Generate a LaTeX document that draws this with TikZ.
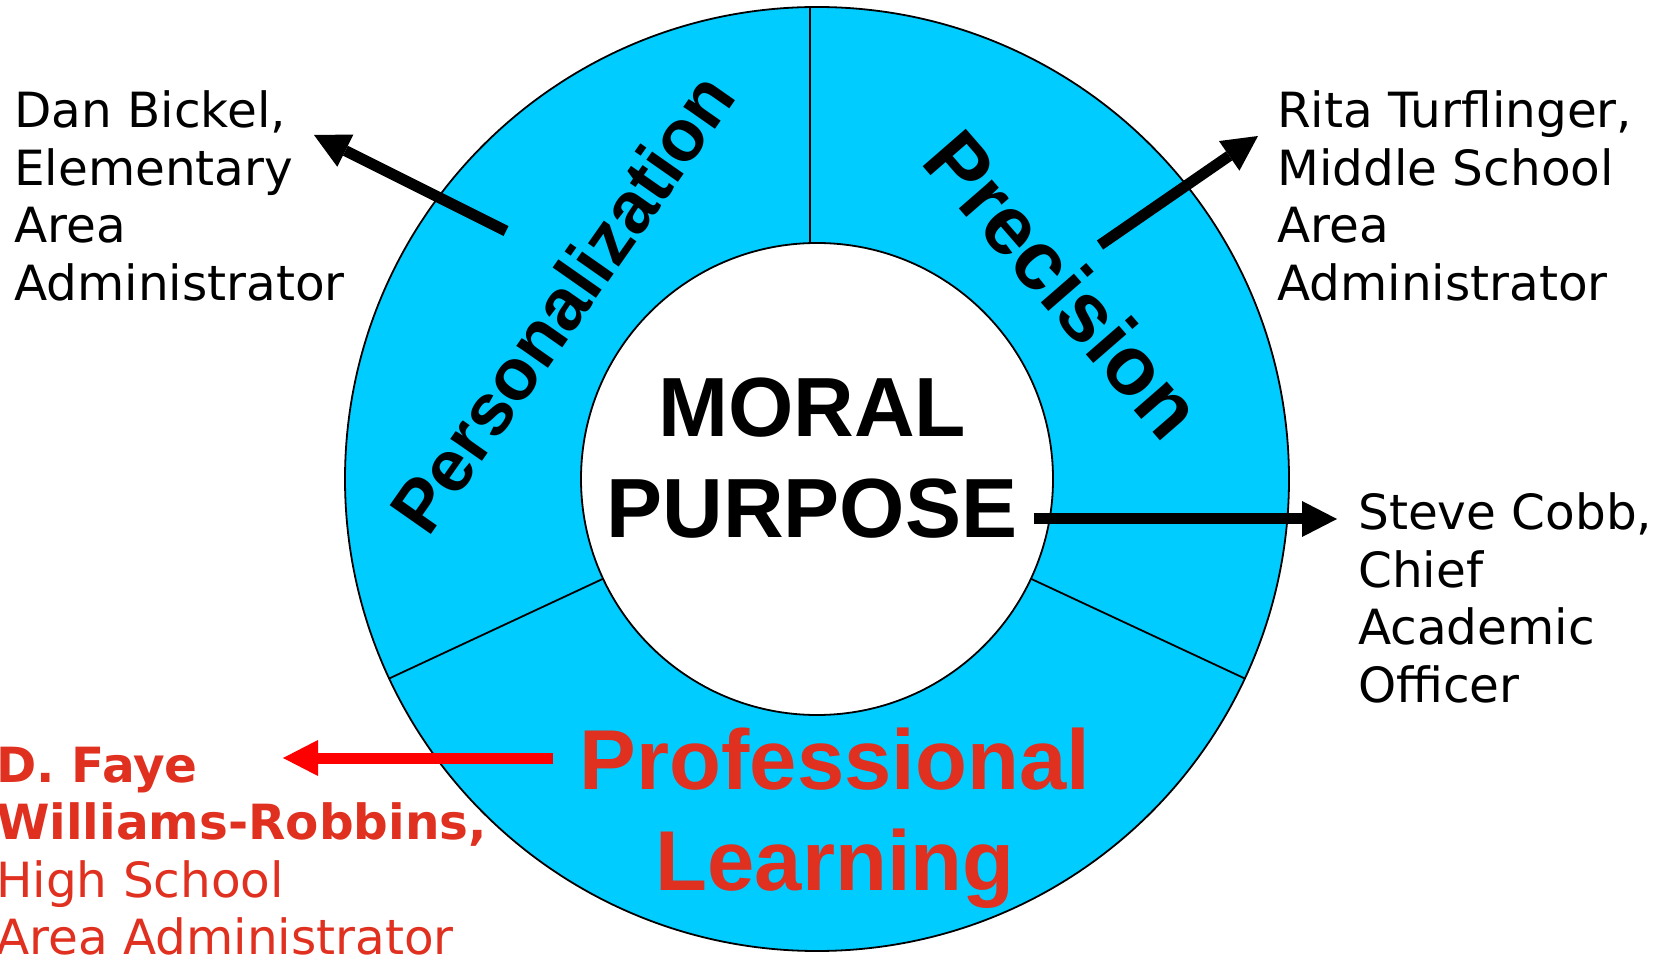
\documentclass[tikz,border=0pt]{standalone}
\usepackage{fontspec}
\setmainfont{DejaVu Sans}
\newfontfamily\arialfont{Liberation Sans}
\usetikzlibrary{arrows.meta}
\definecolor{ringcyan}{RGB}{0,204,255}
\definecolor{textred}{RGB}{224,48,32}
\definecolor{arrowred}{RGB}{255,0,0}
\begin{document}
\begin{tikzpicture}[x=1pt,y=1pt,
  namebox/.style={inner sep=0pt, anchor=base west, font=\fontsize{48.5}{57.5}\selectfont},
  biglabel/.style={inner sep=0pt, anchor=base, font=\arialfont\bfseries\fontsize{84}{95}\selectfont},
  ringlabel/.style={inner sep=0pt, font=\arialfont\bfseries\fontsize{73}{80}\selectfont},
  outline/.style={line width=1.8pt, black},
  bigarrow/.style={line width=11pt, -{Triangle[length=35pt,width=36pt,line width=0pt]}},
]
\useasboundingbox (0,0) rectangle (1661,959);
\coordinate (C) at (817,480);
% ring
\fill[ringcyan] (C) circle (472);
\draw[outline] (C) circle (472);
\fill[white] (C) circle (236);
\draw[outline] (C) circle (236);
% dividers
\coordinate (vTop) at (810,952);
\coordinate (vBot) at (810,716);
\draw[outline] (vTop) -- (vBot);
\coordinate (lIn) at ([shift={(205:236)}]C);
\coordinate (lOut) at ([shift={(205:472)}]C);
\draw[outline] (lIn) -- (lOut);
\coordinate (rIn) at ([shift={(-25:236)}]C);
\coordinate (rOut) at ([shift={(-25:472)}]C);
\draw[outline] (rIn) -- (rOut);
% center labels
\node[biglabel] (moral) at (812,522) {MORAL};
\node[biglabel] (purpose) at (812,421) {PURPOSE};
\node[biglabel, text=textred, font=\arialfont\bfseries\fontsize{85}{95}\selectfont] (prof) at (835,170) {Professional};
\node[biglabel, text=textred, font=\arialfont\bfseries\fontsize{85}{95}\selectfont] (learn) at (835,69) {Learning};
\node[ringlabel, rotate=55] (pers) at (562,656) {Personalization};
\node[ringlabel, rotate=-49, font=\arialfont\bfseries\fontsize{83}{90}\selectfont] (prec) at (1064,675) {Precision};
% name blocks
\node[namebox] (dan) at (14,831) {\begin{tabular}[t]{@{}l@{}}Dan Bickel,\\Elementary\\Area\\Administrator\end{tabular}};
\node[namebox] (rita) at (1277,831) {\begin{tabular}[t]{@{}l@{}}Rita Turflinger,\\Middle School\\Area\\Administrator\end{tabular}};
\node[namebox] (steve) at (1358,429) {\begin{tabular}[t]{@{}l@{}}Steve Cobb,\\Chief\\Academic\\Officer\end{tabular}};
\node[namebox, text=textred] (faye) at (-4,177) {\begin{tabular}[t]{@{}l@{}}{\bfseries D. Faye}\\{\bfseries Williams-Robbins,}\\High School\\Area Administrator\end{tabular}};
% arrows
\coordinate (danS) at (506,728);
\coordinate (danT) at (314,824);
\coordinate (ritaS) at (1100,714);
\coordinate (ritaT) at (1258,823);
\coordinate (steveS) at (1034,440);
\coordinate (steveT) at (1337,440);
\coordinate (fayeS) at (553,201);
\coordinate (fayeT) at (283,201);
\draw[bigarrow] (danS) -- (danT);
\draw[bigarrow] (ritaS) -- (ritaT);
\draw[bigarrow] (steveS) -- (steveT);
\draw[bigarrow, arrowred] (fayeS) -- (fayeT);
\end{tikzpicture}
\end{document}
